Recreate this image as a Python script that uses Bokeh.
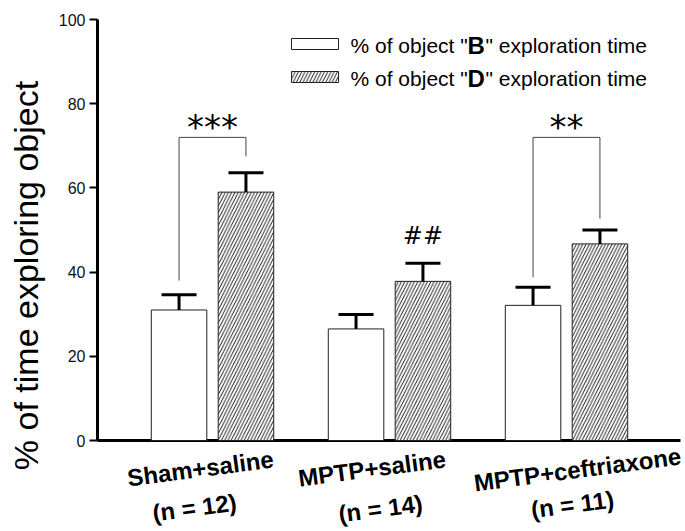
from bokeh.plotting import figure
from bokeh.models import Label, FixedTicker, Range1d
from bokeh.embed import file_html
from bokeh.resources import INLINE

# ---------------- data ----------------
groups = ["Sham+saline", "MPTP+saline", "MPTP+ceftriaxone"]
group_n = ["(n = 12)", "(n = 14)", "(n = 11)"]
b_mean = [31.0, 26.5, 32.1]      # % of object "B" exploration time
b_sem = [3.6, 3.4, 4.3]
d_mean = [59.0, 37.8, 46.7]      # % of object "D" exploration time
d_sem = [4.6, 4.3, 3.3]
y_ticks = [0, 20, 40, 60, 80, 100]
sig_groups = [0, 2]
sig_marks = ["***", "**"]
sig_left_end = [38.0, 38.8]
sig_right_end = [67.5, 52.7]
sig_top = 72.0
hash_group = 1
hash_mark = "##"
legend_pre = '% of object "'
legend_keys = ["B", "D"]
legend_post = '" exploration time'

# ---------------- layout ----------------
FONT = "Liberation Sans"
PX_PER_X = 177.0
FW = 588                       # frame width (px), page 97..685
PX_PER_Y = 4.21                # px per y unit
FT, FB = 19, 531               # frame top / bottom (page px)
FH = FB - FT
Y1 = 100.0
Y0 = Y1 - FH / PX_PER_Y
X0 = 0.3503
X1 = X0 + FW / PX_PER_X
PAGE_L, PAGE_Y0 = 97, 440      # frame left, y=0 line (page px)


def px2x(px):
    return X0 + (px - PAGE_L) / PX_PER_X


def py2y(py):
    return (PAGE_Y0 - py) / PX_PER_Y


off = 0.189
bw = 0.3136
cap = 0.0989
centers = [1, 2, 3]
xb = [c - off for c in centers]
xd = [c + off for c in centers]

p = figure(frame_width=FW, frame_height=FH, min_border_left=97, min_border_right=0,
           min_border_top=FT, min_border_bottom=0,
           x_range=Range1d(X0, X1), y_range=Range1d(Y0, Y1),
           output_backend="svg", toolbar_location=None, tools="")
p.outline_line_color = None
p.xgrid.visible = False
p.ygrid.visible = False
p.background_fill_color = "white"
p.xaxis.visible = False

# x axis line at y = 0
p.segment(x0=[px2x(95)], y0=[0], x1=[px2x(680)], y1=[0], line_color="black", line_width=3)

# bars
p.vbar(x=xb, top=b_mean, bottom=0, width=bw, fill_color="white",
       line_color="#222222", line_width=1)
p.vbar(x=xd, top=d_mean, bottom=0, width=bw, fill_color="white",
       line_color="#222222", line_width=1, hatch_pattern="/", hatch_scale=6.5,
       hatch_weight=0.9, hatch_color="black")

# error bars (upper only)
b_hi = [m + s for m, s in zip(b_mean, b_sem)]
d_hi = [m + s for m, s in zip(d_mean, d_sem)]
p.segment(x0=xb + xd, y0=b_mean + d_mean, x1=xb + xd, y1=b_hi + d_hi,
          line_color="black", line_width=3)
p.segment(x0=[x - cap for x in xb + xd], y0=b_hi + d_hi,
          x1=[x + cap for x in xb + xd], y1=b_hi + d_hi,
          line_color="black", line_width=3)

# significance brackets
xs, ys = [], []
for g, le, re in zip(sig_groups, sig_left_end, sig_right_end):
    xs.append([xb[g], xb[g], xd[g], xd[g]])
    ys.append([le, sig_top, sig_top, re])
p.multi_line(xs=xs, ys=ys, line_color="#444444", line_width=1)
for g, m in zip(sig_groups, sig_marks):
    p.add_layout(Label(x=centers[g], y=sig_top - 2.4, text=m, text_align="center",
                       text_baseline="bottom", text_font="DejaVu Sans",
                       text_font_size="34px", text_color="black"))
p.add_layout(Label(x=xd[hash_group], y=d_hi[hash_group] + 3.2, text=hash_mark,
                   text_align="center", text_baseline="bottom", text_font="DejaVu Sans",
                   text_font_size="24px", text_color="black"))

# y axis
yax = p.yaxis[0]
yax.bounds = (0, 100)
yax.ticker = FixedTicker(ticks=y_ticks)
yax.minor_tick_line_color = None
yax.major_tick_in = 0
yax.major_tick_out = 8
yax.major_tick_line_width = 2
yax.axis_line_width = 3
yax.major_label_text_font = FONT
yax.major_label_text_font_size = "16px"
yax.major_label_text_color = "#111111"
yax.major_label_standoff = 4
yax.axis_label = "% of time exploring object"
yax.axis_label_text_font = FONT
yax.axis_label_text_font_size = "34px"
yax.axis_label_text_font_style = "normal"
yax.axis_label_text_color = "black"
yax.axis_label_standoff = 11

# category labels (two lines)
line1_px = [(200, 468), (371.5, 468), (577, 469)]
line2_px = [(194, 507), (380, 508), (572, 504)]
for g in range(3):
    for txt, (px, py) in ((groups[g], line1_px[g]), (group_n[g], line2_px[g])):
        p.add_layout(Label(x=px2x(px), y=py2y(py), text=txt, angle=7.5, angle_units="deg",
                           text_align="center", text_baseline="middle",
                           text_font=FONT, text_font_size="24px",
                           text_font_style="bold", text_color="black"))

# legend (manual, with bold key letter)
box_l, box_r = px2x(291), px2x(338)
rows_py = [(38, 49, 44.5), (71, 82, 78)]
for i, (t, b, mid) in enumerate(rows_py):
    kw = dict(left=[box_l], right=[box_r], top=[py2y(t)], bottom=[py2y(b)],
              fill_color="white", line_color="#222222", line_width=1)
    if i == 1:
        kw.update(hatch_pattern="/", hatch_scale=6.5, hatch_weight=0.9, hatch_color="black")
    p.quad(**kw)
    ym = py2y(mid)
    p.add_layout(Label(x=px2x(350), y=ym, text=legend_pre, text_font=FONT,
                       text_font_size="21px", text_baseline="middle", text_color="black"))
    p.add_layout(Label(x=px2x(467), y=ym, text=legend_keys[i], text_font=FONT,
                       text_font_size="24px", text_font_style="bold",
                       text_baseline="middle", text_color="black"))
    p.add_layout(Label(x=px2x(485), y=ym, text=legend_post, text_font=FONT,
                       text_font_size="21px", text_baseline="middle", text_color="black"))

open("out.html", "w").write(file_html(p, INLINE))
